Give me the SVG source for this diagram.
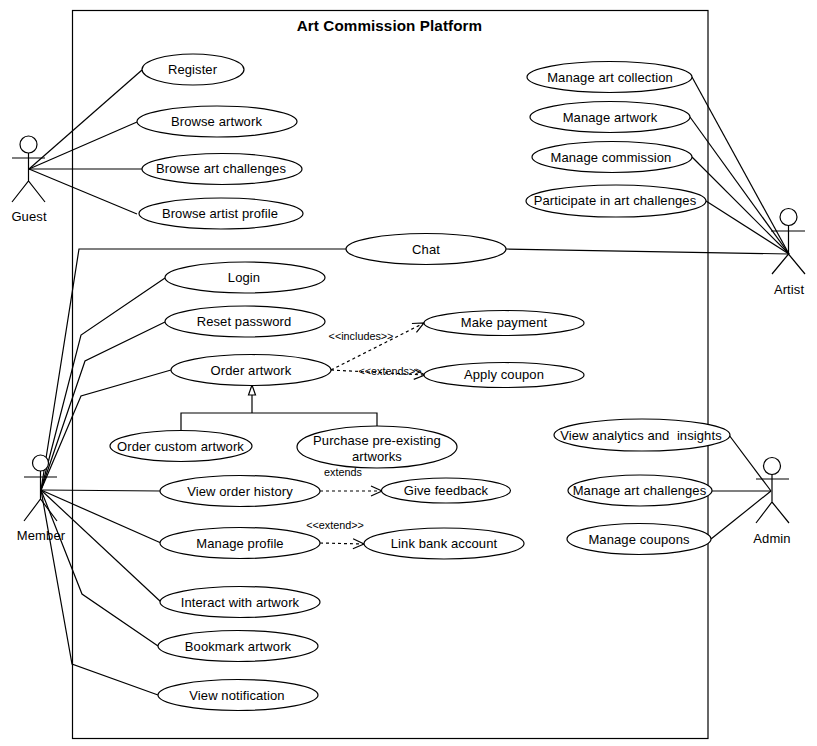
<svg xmlns="http://www.w3.org/2000/svg" width="817" height="746" viewBox="0 0 817 746">
<style>
text{font-family:"Liberation Sans",Arial,sans-serif;font-size:13px;letter-spacing:.1px;fill:#000;text-anchor:middle;white-space:pre}
.small{font-size:10.800px;letter-spacing:0}
.title{font-size:15.200px;font-weight:bold}
ellipse,.actor circle{fill:#fff;stroke:#000;stroke-width:1.2}
.actor path{fill:none;stroke:#000;stroke-width:1.2}
#connectors path{fill:none;stroke:#000;stroke-width:1.2}
#connectors .dash{stroke-dasharray:3 3;marker-end:url(#open)}
</style>
<defs>
<marker id="open" markerUnits="userSpaceOnUse" markerWidth="14" markerHeight="14" refX="12" refY="6" orient="auto" viewBox="0 0 14 12"><path d="M1 1L12 6L1 11" fill="none" stroke="#000" stroke-width="1.2"/></marker>
<marker id="tri" markerUnits="userSpaceOnUse" markerWidth="12" markerHeight="12" refX="11" refY="4.5" orient="auto" viewBox="0 0 12 9"><path d="M1 1L11 4.500L1 8Z" fill="#fff" stroke="#000" stroke-width="1.2"/></marker>
</defs>
<rect width="817" height="746" fill="#fff"/>
<g id="boundary"><rect x="72.500" y="10.500" width="635.500" height="728" fill="none" stroke="#000" stroke-width="1.200"/><text class="title" x="389.500" y="31">Art Commission Platform</text></g>
<g id="connectors">
<path d="M29 169L142 70"/><path d="M29 169L137 122"/><path d="M29 169L142 169"/><path d="M29 169L137 214"/>
<path d="M41 490L79 249L346 249"/><path d="M41 490L81 335L165 278"/><path d="M41 490L85 361L165 322"/><path d="M41 490L81 396L171 370"/>
<path d="M41 490L161 491"/><path d="M41 490L161 543"/><path d="M41 490L161 602"/><path d="M41 490L82 594L158 646"/><path d="M41 490L72 664L158 695"/>
<path d="M506 249L789 254"/><path d="M692 77L789 254"/><path d="M690 117L789 254"/><path d="M692 157L789 254"/><path d="M706 201L789 254"/>
<path d="M729 435L771 491"/><path d="M712 491L771 491"/><path d="M711 539L771 491"/>
<path class="dash" d="M331 370L424 323"/><path class="dash" d="M331 370L425 375"/>
<path class="dash" d="M320 491L382 491"/><path class="dash" d="M320 543L364 544"/>
<path d="M181 430V413H377V430"/><path d="M252 413V385" marker-end="url(#tri)"/>
</g>
<g id="guest" class="actor"><circle cx="28.500" cy="144.500" r="8.500"/><path d="M28.500 153V181M12 158H45M12 202L28.500 181L45 202"/><text x="29" y="221">Guest</text></g>
<g id="member" class="actor"><circle cx="40.500" cy="463" r="8"/><path d="M40.500 471V499M24 477H57M24 521L40.500 499L57 521"/><text x="41" y="540">Member</text></g>
<g id="artist" class="actor"><circle cx="788.500" cy="217" r="8.500"/><path d="M788.500 225.500V254M771 231H805M772 274L788.500 254L805 274"/><text x="789" y="294">Artist</text></g>
<g id="admin" class="actor"><circle cx="772" cy="466" r="8.500"/><path d="M772 474.500V502M756 479H789M756 523L772 502L789 523"/><text x="772" y="543">Admin</text></g>
<g id="register"><ellipse cx="193" cy="69.500" rx="51" ry="15.500"/><text x="192.500" y="74">Register</text></g>
<g id="browse-artwork"><ellipse cx="217" cy="121.500" rx="80" ry="15.500"/><text x="216.500" y="126">Browse artwork</text></g>
<g id="browse-challenges"><ellipse cx="222" cy="169" rx="80" ry="15.500"/><text x="221" y="173">Browse art challenges</text></g>
<g id="browse-artist"><ellipse cx="221" cy="213.500" rx="82" ry="15.500"/><text x="220" y="218">Browse artist profile</text></g>
<g id="chat"><ellipse cx="426" cy="249" rx="80" ry="15.500"/><text x="426" y="254">Chat</text></g>
<g id="login"><ellipse cx="245" cy="277.500" rx="80" ry="15.500"/><text x="244" y="282">Login</text></g>
<g id="reset"><ellipse cx="245" cy="321.500" rx="80" ry="15.500"/><text x="244" y="326">Reset password</text></g>
<g id="order"><ellipse cx="251" cy="370" rx="80" ry="15.500"/><text x="251" y="375">Order artwork</text></g>
<g id="custom"><ellipse cx="181" cy="446" rx="71" ry="15.500"/><text x="180.500" y="451">Order custom artwork</text></g>
<g id="purchase"><ellipse cx="377" cy="447" rx="80" ry="21"/><text x="377" y="445">Purchase pre-existing</text><text x="377" y="461">artworks</text></g>
<g id="history"><ellipse cx="240" cy="491" rx="80" ry="15.500"/><text x="240" y="496">View order history</text></g>
<g id="feedback"><ellipse cx="446" cy="490.500" rx="64.500" ry="12.500"/><text x="446" y="495">Give feedback</text></g>
<g id="manage-profile"><ellipse cx="240" cy="543" rx="80" ry="15.500"/><text x="240" y="548">Manage profile</text></g>
<g id="bank"><ellipse cx="444" cy="543.500" rx="80" ry="15.500"/><text x="444" y="548">Link bank account</text></g>
<g id="interact"><ellipse cx="240" cy="602" rx="80" ry="15.500"/><text x="240" y="607">Interact with artwork</text></g>
<g id="bookmark"><ellipse cx="238" cy="646" rx="80" ry="15.500"/><text x="238" y="651">Bookmark artwork</text></g>
<g id="notification"><ellipse cx="238" cy="695" rx="80" ry="15.500"/><text x="237" y="700">View notification</text></g>
<g id="payment"><ellipse cx="504" cy="323" rx="80" ry="12.500"/><text x="504" y="327">Make payment</text></g>
<g id="coupon"><ellipse cx="504" cy="375" rx="80" ry="12.500"/><text x="504" y="379">Apply coupon</text></g>
<g id="collection"><ellipse cx="609.500" cy="77" rx="82.500" ry="15.500"/><text x="610" y="82">Manage art collection</text></g>
<g id="manage-artwork"><ellipse cx="610" cy="117" rx="80" ry="15.500"/><text x="610" y="122">Manage artwork</text></g>
<g id="commission"><ellipse cx="612" cy="157" rx="80" ry="15.500"/><text x="611" y="162">Manage commission</text></g>
<g id="participate"><ellipse cx="616" cy="201" rx="90" ry="16"/><text x="615" y="205">Participate in art challenges</text></g>
<g id="analytics"><ellipse cx="642" cy="435" rx="88" ry="16"/><text x="641" y="440">View analytics and  insights</text></g>
<g id="manage-challenges"><ellipse cx="640" cy="490.500" rx="72" ry="15.500"/><text x="639.500" y="495">Manage art challenges</text></g>
<g id="manage-coupons"><ellipse cx="639" cy="539" rx="72" ry="15.500"/><text x="639" y="544">Manage coupons</text></g>
<g id="labels"><text class="small" x="361" y="340">&lt;&lt;includes&gt;&gt;</text><text class="small" x="390" y="375">&lt;&lt;extends&gt;&gt;</text><text class="small" x="343" y="476">extends</text><text class="small" x="335" y="529">&lt;&lt;extend&gt;&gt;</text></g>
</svg>
